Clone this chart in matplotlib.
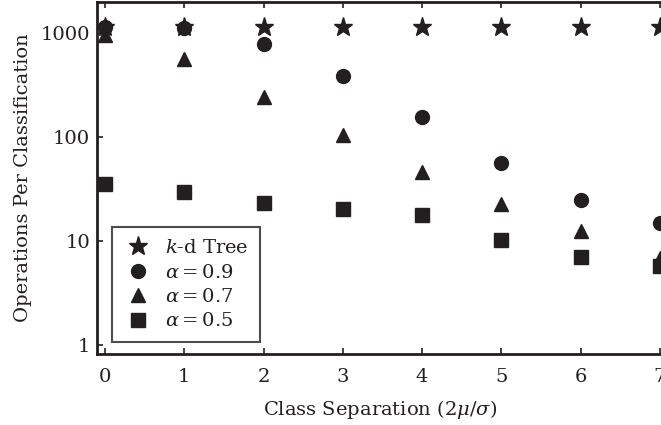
import matplotlib
matplotlib.use("Agg")
import matplotlib.pyplot as plt

x = [0, 1, 2, 3, 4, 5, 6, 7]
kd_tree = [1150, 1150, 1150, 1150, 1150, 1150, 1150, 1150]
alpha09 = [1150, 1130, 783, 386, 156, 56, 25, 14.9]
alpha07 = [950, 562, 243, 104, 46, 22.7, 12.5, 6.9]
alpha05 = [35, 29.6, 23, 20.4, 17.8, 10.2, 7.1, 5.8]
labels = [r"$k$-d Tree", r"$\alpha = 0.9$", r"$\alpha = 0.7$", r"$\alpha = 0.5$"]
yticks = [1, 10, 100, 1000]

plt.rcParams['font.family'] = ['DejaVu Serif']
plt.rcParams['mathtext.fontset'] = 'dejavuserif'
col = '#231f20'
fs = 14

fig = plt.figure(figsize=(6.61, 4.25), dpi=100)
ax = fig.add_axes([97/661, 1-354/425, 1-97/661 + 0.002, (354-2)/425])

ax.plot(x, kd_tree, linestyle='none', marker='*', ms=14, color=col, label=labels[0])
ax.plot(x, alpha09, linestyle='none', marker='o', ms=10, color=col, label=labels[1])
ax.plot(x, alpha07, linestyle='none', marker='^', ms=10, color=col, label=labels[2])
ax.plot(x, alpha05, linestyle='none', marker='s', ms=10, color=col, label=labels[3])

ax.set_yscale('log')
ax.set_ylim(0.82, 1990)
ax.set_xlim(-0.1, 7.03)
ax.set_yticks(yticks)
ax.set_yticklabels([str(t) for t in yticks])
ax.minorticks_off()
ax.set_xticks(x)
ax.tick_params(direction='in', top=True, right=False, length=4, width=1.2, labelsize=fs, colors=col, pad=5)
ax.tick_params(axis='x', pad=10)
for s in ax.spines.values():
    s.set_linewidth(2)
    s.set_color(col)

ax.set_xlabel(r"Class Separation ($2\mu/\sigma$)", fontsize=fs, color=col, labelpad=9)
ax.set_ylabel("Operations Per Classification", fontsize=fs, color=col, labelpad=6)

leg = ax.legend(loc='lower left', bbox_to_anchor=(15/564, 12/352), fontsize=fs, frameon=True,
                fancybox=False, edgecolor=col, handletextpad=0.6, borderpad=0.6,
                labelspacing=0.33, handlelength=1.5, borderaxespad=0)
leg.get_frame().set_linewidth(1.5)
for t in leg.get_texts():
    t.set_color(col)

fig.savefig("out.png", dpi=100)
